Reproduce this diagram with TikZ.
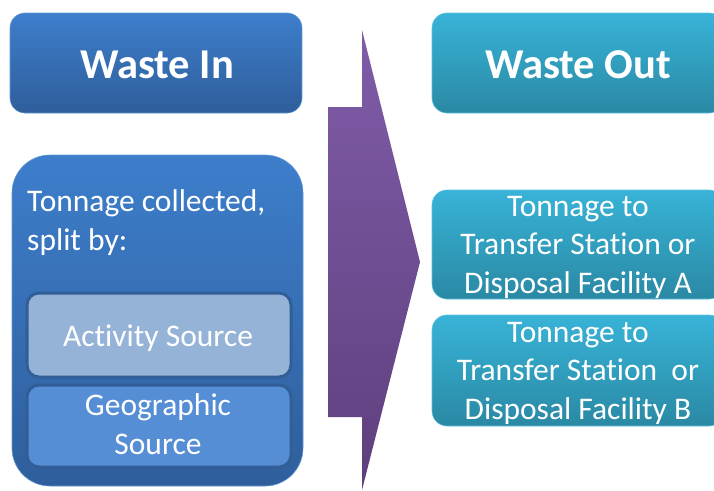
\documentclass[tikz,border=0pt]{standalone}
\usepackage{fontspec}
\setmainfont{Carlito}[Ligatures={NoCommon}]
\definecolor{inTop}{HTML}{3D7ECB}
\definecolor{inBot}{HTML}{2F5E9B}
\definecolor{outTop}{HTML}{38B3D7}
\definecolor{outBot}{HTML}{2A89A4}
\definecolor{arTop}{HTML}{805CA8}
\definecolor{arBot}{HTML}{5E3F7D}
\definecolor{actFill}{HTML}{95B3D7}
\definecolor{geoFill}{HTML}{558ED5}
\definecolor{subBorder}{HTML}{325E98}
\tikzset{
  inbox/.style={rounded corners=15pt, top color=inTop, bottom color=inBot, draw=inTop!80!white, line width=0.6pt},
  outbox/.style={rounded corners=15pt, top color=outTop, bottom color=outBot, draw=outTop!80!white, line width=0.6pt},
  subbox/.style={rounded corners=12pt, draw=subBorder, line width=3pt},
  title/.style={text=white, inner sep=0pt, font=\fontsize{42.5}{44}\selectfont\bfseries},
  body/.style={text=white, inner sep=0pt, align=center, font=\fontsize{31.5}{38.5}\selectfont}
}
\begin{document}
\begin{tikzpicture}[x=1pt,y=-1pt]
\clip (0,0) rectangle (714,490);
\fill[white] (0,0) rectangle (714,490);
% left column
\node[inbox, minimum width=292pt, minimum height=100pt] (wastein) at (156,63) {};
\node[title, anchor=base] (wasteintext) at (157,78) {Waste In};
\node[inbox, rounded corners=38pt, minimum width=291pt, minimum height=331pt] (collected) at (157.5,320.5) {};
\node[body, anchor=base west, align=left] (collectedtext) at (27,250) {Tonnage collected,\\split by:};
\node[subbox, fill=actFill, minimum width=264pt, minimum height=84pt] (activity) at (159,335) {};
\node[body, anchor=base] (activitytext) at (158,346) {Activity Source};
\node[subbox, fill=geoFill, minimum width=264pt, minimum height=82pt] (geo) at (159,426) {};
\node[body, anchor=base] (geotext) at (158,454) {Geographic\\Source};
% arrow
\shade[top color=arTop, bottom color=arBot] (328,107) -- (362,107) -- (362,30) -- (420,262) -- (362,490) -- (362,417) -- (328,417) -- cycle;
% right column
\node[outbox, minimum width=292pt, minimum height=100pt] (wasteout) at (578,63) {};
\node[title, anchor=base] (wasteouttext) at (578,78) {Waste Out};
\node[outbox, minimum width=292pt, minimum height=109pt] (tona) at (578,244.5) {};
\node[body, anchor=base] (tonatext) at (578,293) {Tonnage to\\Transfer Station or\\Disposal Facility A};
\node[outbox, minimum width=292pt, minimum height=111pt] (tonb) at (578,370.5) {};
\node[body, anchor=base] (tonbtext) at (578,419) {Tonnage to\\Transfer Station\ \ or\\Disposal Facility B};
\end{tikzpicture}
\end{document}
